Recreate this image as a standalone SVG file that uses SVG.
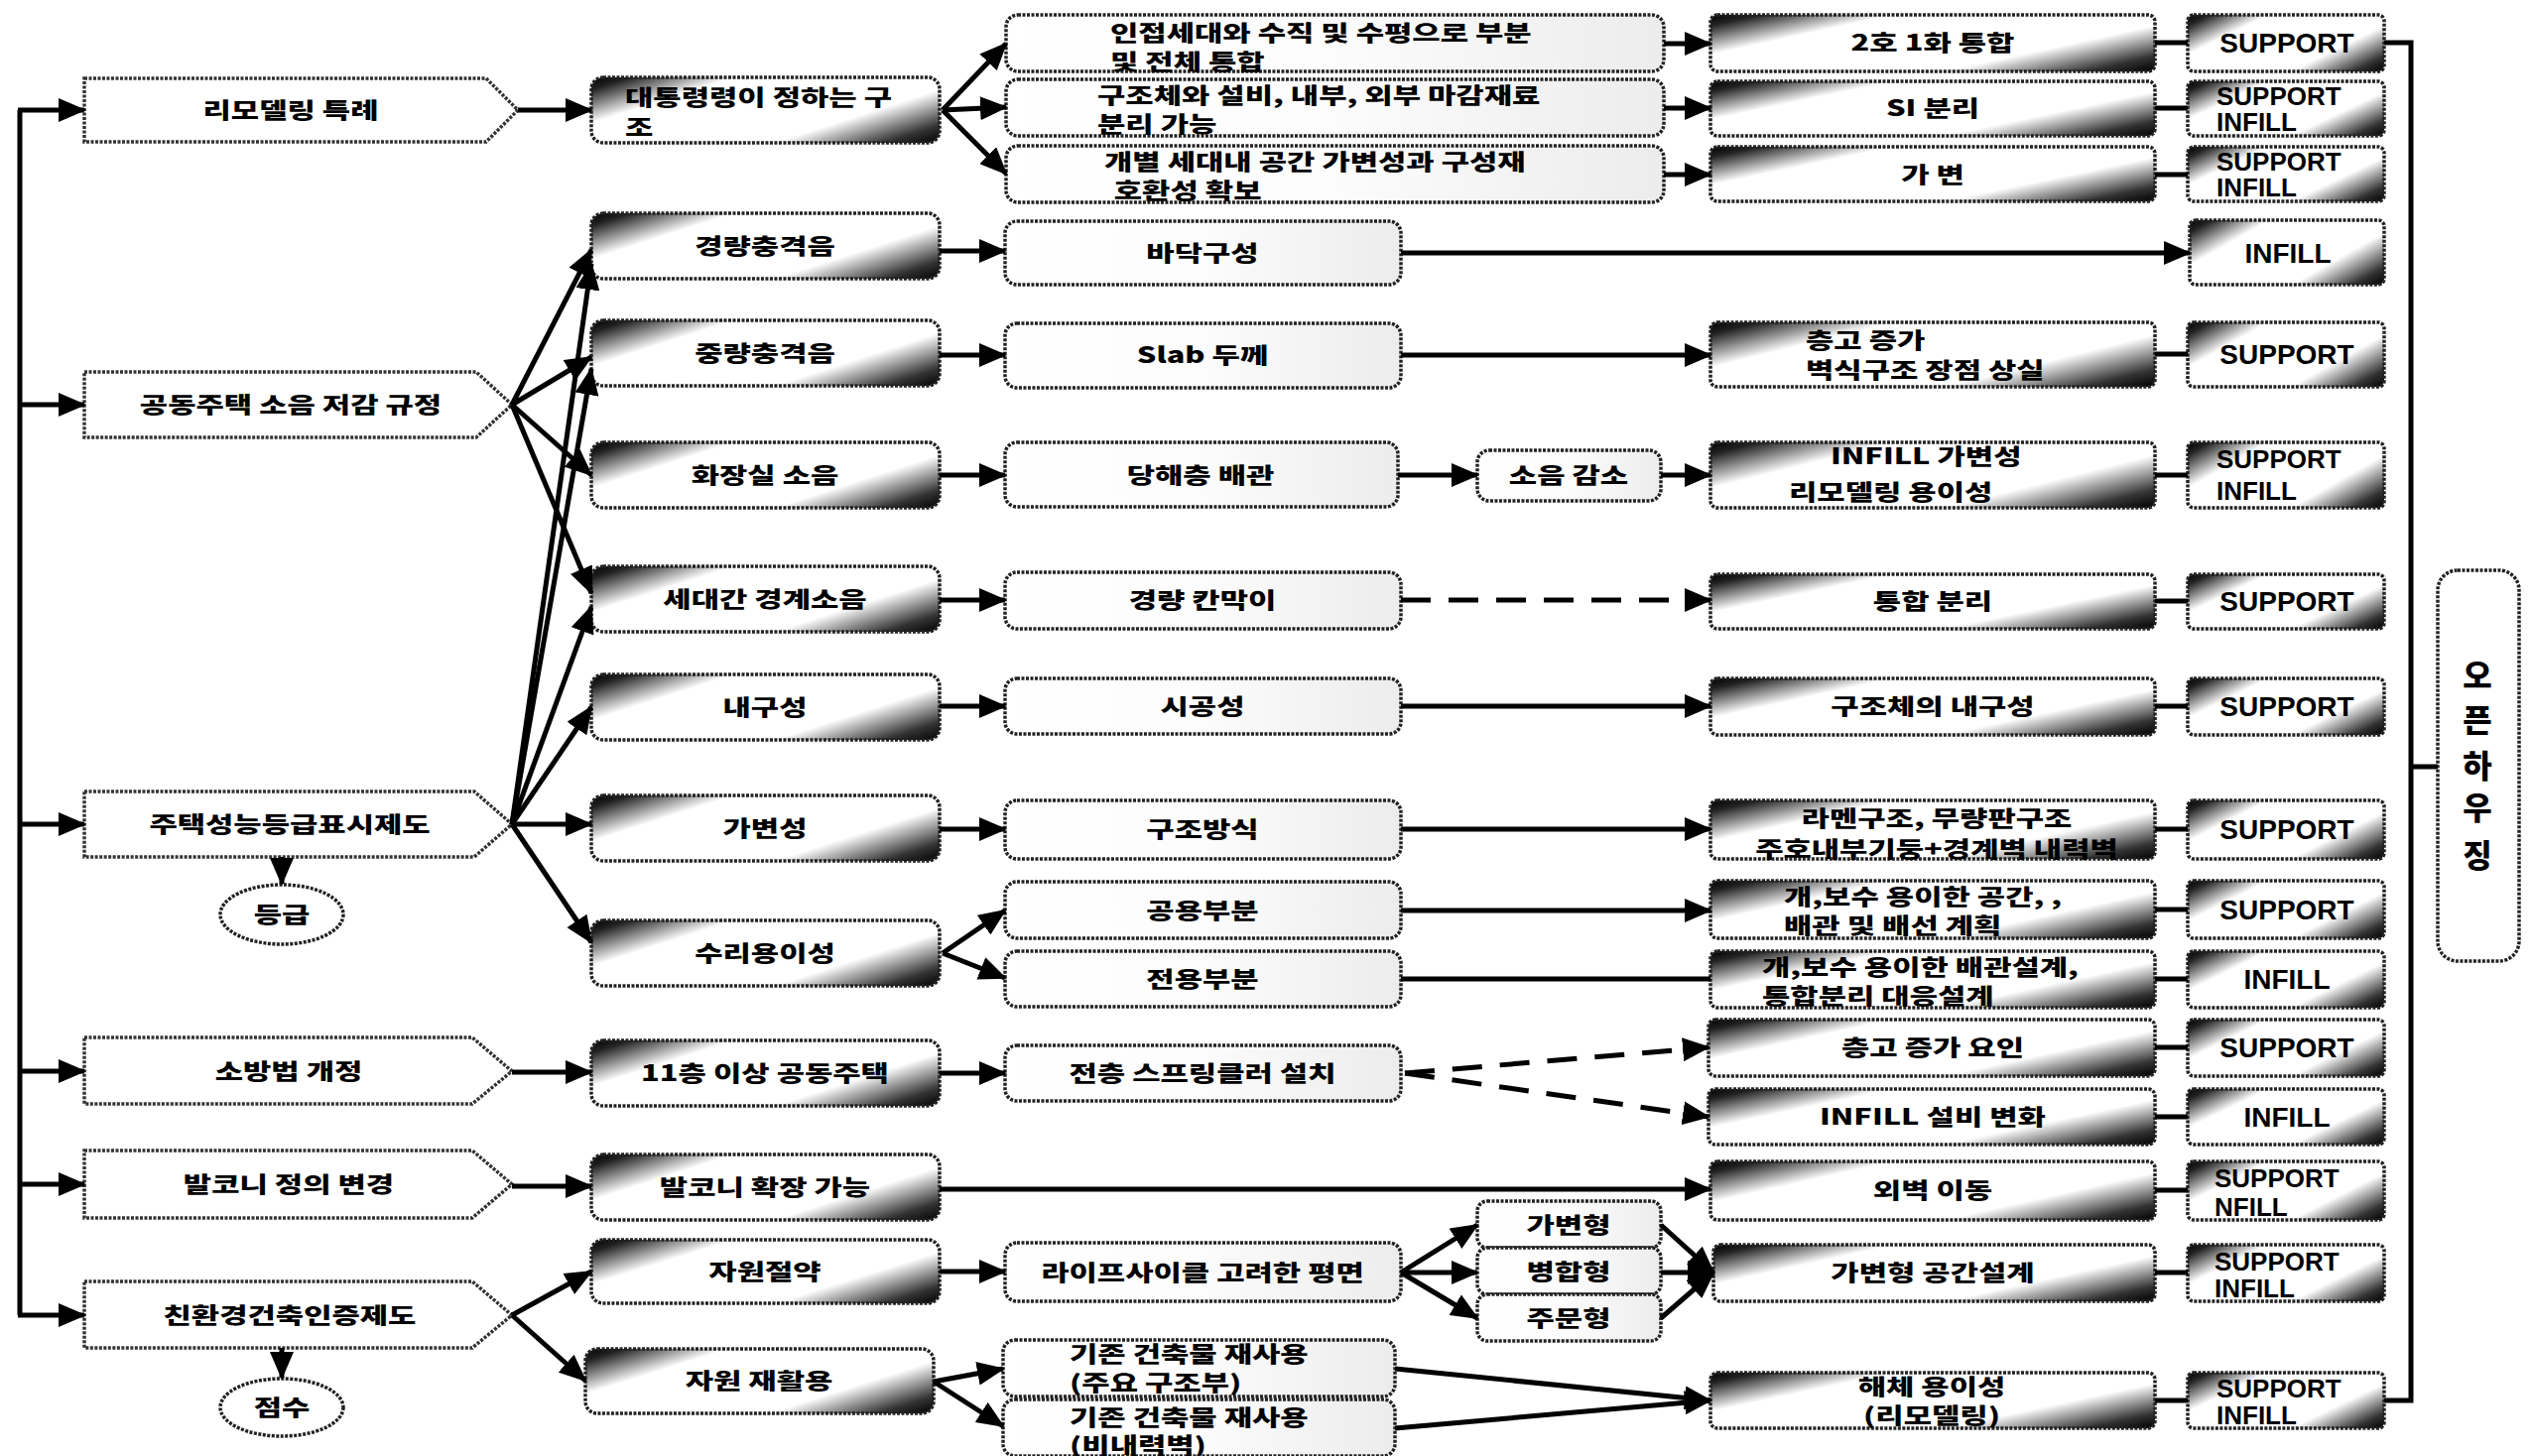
<svg xmlns="http://www.w3.org/2000/svg" width="2551" height="1468" viewBox="0 0 2551 1468">
<style>
.k{font-family:"Noto Sans CJK KR","Noto Sans",sans-serif;font-weight:900;font-size:22px;fill:#000;transform-box:fill-box;transform-origin:center;transform:scaleX(1.4)}
.c{text-anchor:middle}
.l{transform-origin:left center}
.e{font-family:"Liberation Sans",Arial,sans-serif;font-weight:700;font-size:28px;fill:#000}
.e2{font-family:"Liberation Sans",Arial,sans-serif;font-weight:700;font-size:26px;fill:#000}
.v{font-family:"Noto Sans CJK KR",sans-serif;font-weight:900;font-size:32px;text-anchor:middle}
.h{fill:#fff;stroke:#333;stroke-width:3.5;stroke-dasharray:3 1.5}
.d{fill:url(#gd);stroke:#222;stroke-width:3.5;stroke-dasharray:3 1.5}
.p{fill:url(#gl);stroke:#222;stroke-width:3.5;stroke-dasharray:3 1.5}
.w{fill:#fff;stroke:#222;stroke-width:3.5;stroke-dasharray:3 1.5}
.ln{fill:none;stroke:#000;stroke-width:5}
.ar{marker-end:url(#a)}
.ds{stroke-dasharray:30 18}
</style>
<defs>
<linearGradient id="gd" x1="0" y1="0" x2="1.18" y2="0.69">
<stop offset="0" stop-color="#000"/>
<stop offset="0.07" stop-color="#222"/>
<stop offset="0.26" stop-color="#fff"/>
<stop offset="0.7" stop-color="#fff"/>
<stop offset="0.9" stop-color="#333"/>
<stop offset="1" stop-color="#000"/>
</linearGradient>
<linearGradient id="gl" x1="0" y1="0" x2="1" y2="0">
<stop offset="0" stop-color="#fff"/>
<stop offset="0.5" stop-color="#fcfcfc"/>
<stop offset="1" stop-color="#ececec"/>
</linearGradient>
<marker id="a" markerUnits="userSpaceOnUse" markerWidth="28" markerHeight="24" refX="26" refY="12" orient="auto">
<path d="M0,0 L28,12 L0,24 z" fill="#000"/>
</marker>
</defs>

<!-- Left column -->
<g id="n-remodel"><path class="h" d="M85,79 H490 L522,111 L490,143 H85 Z"/><text class="k c" x="293" y="119">리모델링 특례</text></g>
<g id="n-noise"><path class="h" d="M85,375 H480 L516,408 L480,441 H85 Z"/><text class="k c" x="293" y="416">공동주택 소음 저감 규정</text></g>
<g id="n-grade-sys"><path class="h" d="M85,798 H478 L516,831 L478,864 H85 Z"/><text class="k c" x="292" y="839">주택성능등급표시제도</text></g>
<g id="n-grade"><ellipse class="w" cx="284" cy="922" rx="62" ry="30"/><text class="k c" x="284" y="930">등급</text></g>
<g id="n-fire"><path class="h" d="M85,1046 H476 L516,1080 L476,1113 H85 Z"/><text class="k c" x="291" y="1088">소방법 개정</text></g>
<g id="n-balcony"><path class="h" d="M85,1160 H476 L516,1194 L476,1228 H85 Z"/><text class="k c" x="291" y="1202">발코니 정의 변경</text></g>
<g id="n-eco"><path class="h" d="M85,1292 H476 L516,1326 L476,1359 H85 Z"/><text class="k c" x="292" y="1334">친환경건축인증제도</text></g>
<g id="n-score"><ellipse class="w" cx="284" cy="1419" rx="62" ry="29"/><text class="k c" x="284" y="1427">점수</text></g>

<!-- Column 2 -->
<g id="n-decree"><rect class="d" x="596" y="78" width="351" height="66" rx="12"/><text class="k l" x="630" y="106">대통령령이 정하는 구<tspan x="630" y="136">조</tspan></text></g>
<g id="n-light"><rect class="d" x="596" y="215" width="351" height="66" rx="12"/><text class="k c" x="771" y="256">경량충격음</text></g>
<g id="n-heavy"><rect class="d" x="596" y="323" width="351" height="66" rx="12"/><text class="k c" x="771" y="364">중량충격음</text></g>
<g id="n-toilet"><rect class="d" x="596" y="446" width="351" height="66" rx="12"/><text class="k c" x="771" y="487">화장실 소음</text></g>
<g id="n-between"><rect class="d" x="596" y="571" width="351" height="66" rx="12"/><text class="k c" x="771" y="612">세대간 경계소음</text></g>
<g id="n-durable"><rect class="d" x="596" y="680" width="351" height="66" rx="12"/><text class="k c" x="771" y="721">내구성</text></g>
<g id="n-variable"><rect class="d" x="596" y="802" width="351" height="66" rx="12"/><text class="k c" x="771" y="843">가변성</text></g>
<g id="n-repair"><rect class="d" x="596" y="928" width="351" height="66" rx="12"/><text class="k c" x="771" y="969">수리용이성</text></g>
<g id="n-11f"><rect class="d" x="596" y="1049" width="351" height="66" rx="12"/><text class="k c" x="771" y="1090">11층 이상 공동주택</text></g>
<g id="n-balext"><rect class="d" x="596" y="1164" width="351" height="66" rx="12"/><text class="k c" x="771" y="1205">발코니 확장 가능</text></g>
<g id="n-save"><rect class="d" x="596" y="1250" width="351" height="64" rx="12"/><text class="k c" x="771" y="1290">자원절약</text></g>
<g id="n-recycle"><rect class="d" x="590" y="1360" width="351" height="65" rx="12"/><text class="k c" x="765" y="1400">자원 재활용</text></g>

<!-- Column 3 -->
<g id="n-adj"><rect class="p" x="1014" y="15" width="663" height="57" rx="12"/><text class="k l" x="1119" y="41">인접세대와 수직 및 수평으로 부분<tspan x="1119" y="70">및 전체 통합</tspan></text></g>
<g id="n-sep"><rect class="p" x="1014" y="80" width="663" height="57" rx="12"/><text class="k l" x="1106" y="104">구조체와 설비, 내부, 외부 마감재료<tspan x="1106" y="133">분리 가능</tspan></text></g>
<g id="n-indiv"><rect class="p" x="1014" y="147" width="663" height="57" rx="12"/><text class="k l" x="1113" y="171">개별 세대내 공간 가변성과 구성재<tspan x="1120" y="200">호환성 확보</tspan></text></g>
<g id="n-floor"><rect class="p" x="1013" y="223" width="399" height="64" rx="12"/><text class="k c" x="1212" y="263">바닥구성</text></g>
<g id="n-slab"><rect class="p" x="1013" y="326" width="399" height="65" rx="12"/><text class="k c" x="1212" y="366">Slab 두께</text></g>
<g id="n-pipe"><rect class="p" x="1013" y="446" width="396" height="65" rx="12"/><text class="k c" x="1210" y="487">당해층 배관</text></g>
<g id="n-reduce"><rect class="p" x="1489" y="454" width="185" height="51" rx="12"/><text class="k c" x="1581" y="487">소음 감소</text></g>
<g id="n-partition"><rect class="p" x="1013" y="577" width="399" height="57" rx="12"/><text class="k c" x="1212" y="613">경량 칸막이</text></g>
<g id="n-constr"><rect class="p" x="1013" y="684" width="399" height="56" rx="12"/><text class="k c" x="1212" y="720">시공성</text></g>
<g id="n-struct"><rect class="p" x="1013" y="807" width="399" height="59" rx="12"/><text class="k c" x="1212" y="844">구조방식</text></g>
<g id="n-common"><rect class="p" x="1013" y="889" width="399" height="57" rx="12"/><text class="k c" x="1212" y="926">공용부분</text></g>
<g id="n-private"><rect class="p" x="1013" y="959" width="399" height="56" rx="12"/><text class="k c" x="1212" y="995">전용부분</text></g>
<g id="n-sprinkler"><rect class="p" x="1013" y="1054" width="399" height="56" rx="12"/><text class="k c" x="1212" y="1090">전층 스프링클러 설치</text></g>
<g id="n-life"><rect class="p" x="1013" y="1253" width="399" height="59" rx="12"/><text class="k c" x="1212" y="1291">라이프사이클 고려한 평면</text></g>
<g id="n-t1"><rect class="p" x="1489" y="1211" width="185" height="47" rx="10"/><text class="k c" x="1581" y="1243">가변형</text></g>
<g id="n-t2"><rect class="p" x="1489" y="1258" width="185" height="47" rx="10"/><text class="k c" x="1581" y="1290">병합형</text></g>
<g id="n-t3"><rect class="p" x="1489" y="1305" width="185" height="47" rx="10"/><text class="k c" x="1581" y="1337">주문형</text></g>
<g id="n-reuse1"><rect class="p" x="1011" y="1351" width="395" height="57" rx="12"/><text class="k l" x="1078" y="1373">기존 건축물 재사용<tspan x="1078" y="1402">(주요 구조부)</tspan></text></g>
<g id="n-reuse2"><rect class="p" x="1011" y="1411" width="395" height="57" rx="12"/><text class="k l" x="1078" y="1437">기존 건축물 재사용<tspan x="1078" y="1465">(비내력벽)</tspan></text></g>

<!-- Column 4 -->
<g id="n-2to1"><rect class="d" x="1724" y="15" width="448" height="57" rx="7"/><text class="k c" x="1948" y="51">2호 1화 통합</text></g>
<g id="n-si"><rect class="d" x="1724" y="82" width="448" height="55" rx="7"/><text class="k c" x="1948" y="117">SI 분리</text></g>
<g id="n-var"><rect class="d" x="1724" y="148" width="448" height="55" rx="7"/><text class="k c" x="1948" y="184">가 변</text></g>
<g id="n-height"><rect class="d" x="1724" y="325" width="448" height="65" rx="7"/><text class="k l" x="1820" y="351">층고 증가<tspan x="1820" y="381">벽식구조 장점 상실</tspan></text></g>
<g id="n-infvar"><rect class="d" x="1724" y="446" width="448" height="66" rx="7"/><text class="k l" x="1833" y="468">INFILL 가변성<tspan x="1803" y="504">리모델링 용이성</tspan></text></g>
<g id="n-integ"><rect class="d" x="1724" y="579" width="448" height="55" rx="7"/><text class="k c" x="1948" y="614">통합 분리</text></g>
<g id="n-dur2"><rect class="d" x="1724" y="684" width="448" height="57" rx="7"/><text class="k c" x="1948" y="720">구조체의 내구성</text></g>
<g id="n-rahmen"><rect class="d" x="1724" y="807" width="448" height="59" rx="7"/><text class="k c" x="1952" y="833">라멘구조, 무량판구조<tspan x="1952" y="864">주호내부기둥+경계벽 내력벽</tspan></text></g>
<g id="n-space"><rect class="d" x="1724" y="888" width="448" height="58" rx="7"/><text class="k l" x="1798" y="912">개,보수 용이한 공간, ,<tspan x="1798" y="941">배관 및 배선 계획</tspan></text></g>
<g id="n-pipedes"><rect class="d" x="1724" y="959" width="448" height="57" rx="7"/><text class="k l" x="1776" y="983">개,보수 용이한 배관설계,<tspan x="1776" y="1012">통합분리 대응설계</tspan></text></g>
<g id="n-hfactor"><rect class="d" x="1722" y="1028" width="450" height="57" rx="7"/><text class="k c" x="1948" y="1064">층고 증가 요인</text></g>
<g id="n-infeq"><rect class="d" x="1722" y="1098" width="450" height="56" rx="7"/><text class="k c" x="1948" y="1134">INFILL 설비 변화</text></g>
<g id="n-wall"><rect class="d" x="1724" y="1171" width="448" height="59" rx="7"/><text class="k c" x="1948" y="1208">외벽 이동</text></g>
<g id="n-varspace"><rect class="d" x="1727" y="1255" width="445" height="57" rx="7"/><text class="k c" x="1948" y="1291">가변형 공간설계</text></g>
<g id="n-demol"><rect class="d" x="1724" y="1384" width="448" height="56" rx="7"/><text class="k c" x="1947" y="1406">해체 용이성<tspan x="1947" y="1435">(리모델링)</tspan></text></g>

<!-- Column 5 -->
<g id="s1"><rect class="d" x="2205" y="15" width="198" height="57" rx="6"/><text class="e c" x="2305" y="53">SUPPORT</text></g>
<g id="s2"><rect class="d" x="2205" y="82" width="198" height="55" rx="6"/><text class="e2" x="2234" y="106">SUPPORT<tspan x="2234" y="132">INFILL</tspan></text></g>
<g id="s3"><rect class="d" x="2205" y="148" width="198" height="55" rx="6"/><text class="e2" x="2234" y="172">SUPPORT<tspan x="2234" y="198">INFILL</tspan></text></g>
<g id="s4"><rect class="d" x="2207" y="222" width="196" height="65" rx="6"/><text class="e c" x="2306" y="265">INFILL</text></g>
<g id="s5"><rect class="d" x="2205" y="325" width="198" height="65" rx="6"/><text class="e c" x="2305" y="367">SUPPORT</text></g>
<g id="s6"><rect class="d" x="2205" y="446" width="198" height="66" rx="6"/><text class="e2" x="2234" y="472">SUPPORT<tspan x="2234" y="504">INFILL</tspan></text></g>
<g id="s7"><rect class="d" x="2205" y="579" width="198" height="55" rx="6"/><text class="e c" x="2305" y="616">SUPPORT</text></g>
<g id="s8"><rect class="d" x="2205" y="684" width="198" height="57" rx="6"/><text class="e c" x="2305" y="722">SUPPORT</text></g>
<g id="s9"><rect class="d" x="2205" y="807" width="198" height="59" rx="6"/><text class="e c" x="2305" y="846">SUPPORT</text></g>
<g id="s10"><rect class="d" x="2205" y="888" width="198" height="58" rx="6"/><text class="e c" x="2305" y="927">SUPPORT</text></g>
<g id="s11"><rect class="d" x="2205" y="959" width="198" height="57" rx="6"/><text class="e c" x="2305" y="997">INFILL</text></g>
<g id="s12"><rect class="d" x="2205" y="1028" width="198" height="57" rx="6"/><text class="e c" x="2305" y="1066">SUPPORT</text></g>
<g id="s13"><rect class="d" x="2205" y="1098" width="198" height="56" rx="6"/><text class="e c" x="2305" y="1136">INFILL</text></g>
<g id="s14"><rect class="d" x="2205" y="1171" width="198" height="59" rx="6"/><text class="e2" x="2232" y="1197">SUPPORT<tspan x="2232" y="1226">NFILL</tspan></text></g>
<g id="s15"><rect class="d" x="2205" y="1255" width="198" height="57" rx="6"/><text class="e2" x="2232" y="1281">SUPPORT<tspan x="2232" y="1308">INFILL</tspan></text></g>
<g id="s16"><rect class="d" x="2205" y="1384" width="198" height="56" rx="6"/><text class="e2" x="2234" y="1409">SUPPORT<tspan x="2234" y="1436">INFILL</tspan></text></g>

<!-- Open housing -->
<g id="n-open"><rect class="w" x="2457" y="575" width="82" height="394" rx="20"/>
<text class="v" x="2497" y="693">오</text><text class="v" x="2497" y="738">픈</text><text class="v" x="2497" y="784">하</text><text class="v" x="2497" y="826">우</text><text class="v" x="2497" y="874">징</text></g>

<!-- Connectors -->
<g id="connectors">
<path class="ln" d="M20,111 V1326"/>
<path class="ln ar" d="M18,111 H85"/>
<path class="ln ar" d="M20,408 H85"/>
<path class="ln ar" d="M20,831 H85"/>
<path class="ln ar" d="M20,1080 H85"/>
<path class="ln ar" d="M20,1194 H85"/>
<path class="ln ar" d="M18,1326 H85"/>
<path class="ln ar" d="M284,864 V891"/>
<path class="ln ar" d="M284,1359 V1389"/>

<path class="ln ar" d="M522,111 H596"/>
<path class="ln ar" d="M950,111 L1014,44"/>
<path class="ln ar" d="M950,111 L1014,108"/>
<path class="ln ar" d="M950,111 L1014,175"/>
<path class="ln ar" d="M1677,44 H1724"/>
<path class="ln ar" d="M1677,109 H1724"/>
<path class="ln ar" d="M1677,176 H1724"/>

<path class="ln ar" d="M516,408 L596,252"/>
<path class="ln ar" d="M516,408 L596,360"/>
<path class="ln ar" d="M516,408 L596,479"/>
<path class="ln ar" d="M516,408 L596,598"/>
<path class="ln ar" d="M516,831 L596,266"/>
<path class="ln ar" d="M516,831 L596,372"/>
<path class="ln ar" d="M516,831 L596,612"/>
<path class="ln ar" d="M516,831 L596,713"/>
<path class="ln ar" d="M516,831 H596"/>
<path class="ln ar" d="M516,831 L596,950"/>
<path class="ln ar" d="M516,1081 H596"/>
<path class="ln ar" d="M516,1196 H596"/>
<path class="ln ar" d="M516,1326 L596,1282"/>
<path class="ln ar" d="M516,1326 L590,1392"/>

<path class="ln ar" d="M947,253 H1013"/>
<path class="ln ar" d="M947,358 H1013"/>
<path class="ln ar" d="M947,479 H1013"/>
<path class="ln ar" d="M947,605 H1013"/>
<path class="ln ar" d="M947,712 H1013"/>
<path class="ln ar" d="M947,836 H1013"/>
<path class="ln ar" d="M950,961 L1013,918"/>
<path class="ln ar" d="M950,961 L1013,986"/>
<path class="ln ar" d="M947,1082 H1013"/>
<path class="ln ar" d="M947,1199 H1724"/>
<path class="ln ar" d="M947,1282 H1013"/>
<path class="ln ar" d="M941,1393 L1011,1380"/>
<path class="ln ar" d="M941,1393 L1011,1438"/>

<path class="ln ar" d="M1412,255 H2207"/>
<path class="ln ar" d="M1412,358 H1724"/>
<path class="ln ar" d="M1409,479 H1489"/>
<path class="ln ar" d="M1674,479 H1724"/>
<path class="ln ds ar" d="M1412,605 H1724"/>
<path class="ln ar" d="M1412,712 H1724"/>
<path class="ln ar" d="M1412,836 H1724"/>
<path class="ln ar" d="M1412,918 H1724"/>
<path class="ln" d="M1412,987 H1724"/>
<path class="ln ds ar" d="M1416,1082 L1722,1056"/>
<path class="ln ds ar" d="M1416,1082 L1722,1126"/>
<path class="ln ar" d="M1412,1283 L1489,1235"/>
<path class="ln ar" d="M1412,1283 H1489"/>
<path class="ln ar" d="M1412,1283 L1489,1329"/>
<path class="ln ar" d="M1674,1235 L1727,1283"/>
<path class="ln ar" d="M1674,1283 H1727"/>
<path class="ln ar" d="M1674,1329 L1727,1283"/>
<path class="ln ar" d="M1406,1380 L1724,1412"/>
<path class="ln ar" d="M1406,1440 L1724,1412"/>

<path class="ln" d="M2172,43 H2205 M2172,109 H2205 M2172,176 H2205 M2172,357 H2205 M2172,479 H2205 M2172,606 H2205 M2172,712 H2205 M2172,836 H2205 M2172,917 H2205 M2172,987 H2205 M2172,1056 H2205 M2172,1126 H2205 M2172,1200 H2205 M2172,1283 H2205 M2172,1412 H2205"/>
<path class="ln" d="M2403,43 H2430 V1412 H2403 M2430,773 H2457"/>
</g>
</svg>
